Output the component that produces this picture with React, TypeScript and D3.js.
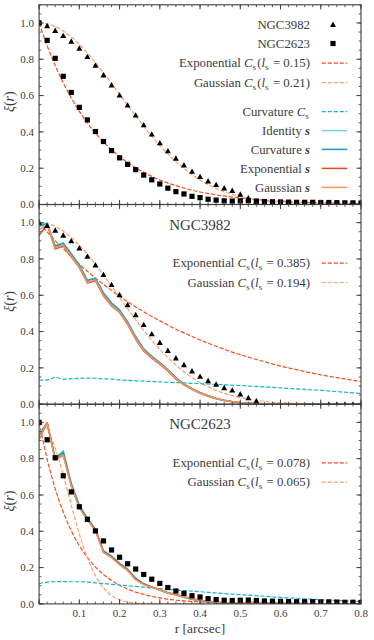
import React from 'react';
import * as d3 from 'd3';

// radial grid (arcsec)
const R = [0, 0.02, 0.04, 0.06, 0.08, 0.1, 0.12, 0.14, 0.16, 0.18, 0.2, 0.22, 0.24, 0.26, 0.28, 0.3, 0.32, 0.34, 0.36, 0.38, 0.4, 0.42, 0.44, 0.46, 0.48, 0.5, 0.52, 0.54, 0.56, 0.58, 0.6, 0.62, 0.64, 0.66, 0.68, 0.7, 0.72, 0.74, 0.76, 0.78, 0.8];

// observed correlation
const ngc3982 = [1.0, 0.982, 0.956, 0.928, 0.897, 0.858, 0.812, 0.764, 0.711, 0.656, 0.600, 0.545, 0.490, 0.436, 0.385, 0.337, 0.293, 0.252, 0.215, 0.180, 0.151, 0.127, 0.107, 0.088, 0.075, 0.054, 0.033, 0.015, -0.02, -0.02, -0.02, -0.025, -0.025, -0.02, -0.02, -0.02, -0.004, -0.004, -0.004, -0.004, -0.02];
const ngc2623 = [1.0, 0.904, 0.805, 0.706, 0.617, 0.535, 0.466, 0.402, 0.347, 0.297, 0.257, 0.221, 0.192, 0.162, 0.136, 0.113, 0.090, 0.071, 0.058, 0.045, 0.038, 0.029, 0.024, 0.020, 0.019, 0.020, 0.021, 0.019, 0.016, 0.015, 0.014, 0.013, 0.012, 0.012, 0.012, 0.011, 0.011, 0.010, 0.009, 0.009, 0.008];

// panel 1 fits
const exp015 = [1, 0.875, 0.766, 0.670, 0.587, 0.513, 0.449, 0.393, 0.344, 0.301, 0.264, 0.231, 0.202, 0.177, 0.155, 0.135, 0.118, 0.104, 0.091, 0.079, 0.069, 0.061, 0.053, 0.047, 0.041, 0.036, 0.031, 0.027, 0.024, 0.021, 0.018, 0.016, 0.014, 0.012, 0.011, 0.009, 0.008, 0.007, 0.006, 0.006, 0.005];
const gauss021 = [1, 0.995, 0.980, 0.956, 0.923, 0.882, 0.835, 0.783, 0.726, 0.667, 0.607, 0.546, 0.487, 0.430, 0.375, 0.325, 0.278, 0.236, 0.198, 0.164, 0.135, 0.110, 0.089, 0.071, 0.056, 0.044, 0.034, 0.026, 0.020, 0.015, 0.011, 0.008, 0.006, 0.004, 0.003, 0.002, 0.002, 0.001, 0.001, 0, 0];

// NGC3982
const exp0385 = [1, 0.949, 0.901, 0.856, 0.812, 0.771, 0.732, 0.695, 0.660, 0.627, 0.595, 0.565, 0.536, 0.509, 0.483, 0.459, 0.436, 0.413, 0.393, 0.373, 0.354, 0.336, 0.319, 0.303, 0.287, 0.273, 0.259, 0.246, 0.234, 0.222, 0.210, 0.200, 0.190, 0.180, 0.171, 0.162, 0.154, 0.146, 0.139, 0.132, 0.125];
const gauss0194 = [1, 0.995, 0.979, 0.953, 0.918, 0.876, 0.826, 0.771, 0.712, 0.650, 0.588, 0.526, 0.465, 0.407, 0.353, 0.302, 0.257, 0.215, 0.179, 0.147, 0.119, 0.096, 0.076, 0.060, 0.047, 0.036, 0.028, 0.021, 0.016, 0.011, 0.008, 0.006, 0.004, 0.003, 0.002, 0.001, 0.001, 0.001, 0, 0, 0];
const curvCs3982 = [0.133, 0.133, 0.148, 0.138, 0.140, 0.142, 0.144, 0.143, 0.140, 0.138, 0.134, 0.131, 0.129, 0.127, 0.125, 0.123, 0.121, 0.119, 0.117, 0.115, 0.113, 0.111, 0.109, 0.107, 0.105, 0.103, 0.100, 0.098, 0.095, 0.093, 0.090, 0.087, 0.084, 0.082, 0.079, 0.076, 0.073, 0.069, 0.066, 0.062, 0.059];
const identity3982 = [0.995, 0.996, 0.873, 0.889, 0.829, 0.769, 0.684, 0.695, 0.614, 0.559, 0.520, 0.455, 0.373, 0.306, 0.265, 0.230, 0.192, 0.147, 0.112, 0.087, 0.065, 0.048, 0.033, 0.022, 0.015, 0.010, 0.006, 0.004, 0.002, 0.001, 0.001, 0.001, 0.001, 0.001, 0, 0, 0, 0, 0, 0, 0];
const curvature3982 = [0.98, 0.995, 0.870, 0.886, 0.826, 0.766, 0.681, 0.692, 0.611, 0.556, 0.517, 0.452, 0.370, 0.303, 0.262, 0.228, 0.190, 0.145, 0.111, 0.086, 0.064, 0.047, 0.032, 0.022, 0.014, 0.009, 0.006, 0.004, 0.002, 0.001, 0.001, 0.001, 0.001, 0.001, 0, 0, 0, 0, 0, 0, 0];
const exponential3982 = [0.93, 0.99, 0.855, 0.872, 0.812, 0.752, 0.668, 0.680, 0.596, 0.542, 0.505, 0.440, 0.358, 0.293, 0.253, 0.220, 0.183, 0.138, 0.106, 0.082, 0.060, 0.044, 0.030, 0.020, 0.013, 0.008, 0.005, 0.003, 0.002, 0.001, 0.001, 0.001, 0.001, 0.001, 0, 0, 0, 0, 0, 0, 0];
const gaussian3982 = [0.96, 0.992, 0.860, 0.876, 0.816, 0.756, 0.672, 0.684, 0.600, 0.546, 0.508, 0.444, 0.362, 0.297, 0.257, 0.224, 0.186, 0.141, 0.108, 0.084, 0.062, 0.045, 0.031, 0.021, 0.014, 0.009, 0.005, 0.003, 0.002, 0.001, 0.001, 0.001, 0.001, 0.001, 0, 0, 0, 0, 0, 0, 0];

// NGC2623
const exp0078 = [1, 0.797, 0.635, 0.506, 0.403, 0.321, 0.256, 0.204, 0.162, 0.129, 0.103, 0.082, 0.065, 0.052, 0.041, 0.033, 0.026, 0.021, 0.017, 0.013, 0.011, 0.008, 0.007, 0.005, 0.004, 0.003, 0.003, 0.002, 0.002, 0.001, 0.001, 0.001, 0.001, 0, 0, 0, 0, 0, 0, 0, 0];
const gauss0065 = [1, 0.962, 0.858, 0.710, 0.543, 0.385, 0.254, 0.155, 0.088, 0.046, 0.023, 0.010, 0.004, 0.002, 0.001, 0, 0, 0, 0, 0, 0, 0, 0, 0, 0, 0, 0, 0, 0, 0, 0, 0, 0, 0, 0, 0, 0, 0, 0, 0, 0];
const curvCs2623 = [0.112, 0.120, 0.123, 0.123, 0.122, 0.122, 0.120, 0.116, 0.112, 0.108, 0.104, 0.100, 0.096, 0.092, 0.088, 0.084, 0.080, 0.077, 0.073, 0.070, 0.067, 0.064, 0.060, 0.057, 0.054, 0.051, 0.048, 0.045, 0.042, 0.039, 0.036, 0.033, 0.031, 0.028, 0.026, 0.023, 0.021, 0.019, 0.017, 0.015, 0.013];
const identity2623 = [0.94, 0.998, 0.805, 0.845, 0.665, 0.545, 0.474, 0.413, 0.293, 0.265, 0.225, 0.192, 0.142, 0.112, 0.094, 0.075, 0.059, 0.049, 0.036, 0.025, 0.016, 0.010, 0.006, 0.004, 0.003, 0.003, 0.004, 0.005, 0.004, 0.003, 0.002, 0.002, 0.001, 0.001, 0.001, 0.001, 0.001, 0.001, 0.001, 0.001, 0.001];
const curvature2623 = [0.925, 0.998, 0.800, 0.836, 0.660, 0.540, 0.470, 0.410, 0.290, 0.262, 0.222, 0.190, 0.140, 0.110, 0.093, 0.076, 0.060, 0.050, 0.037, 0.026, 0.017, 0.011, 0.007, 0.005, 0.004, 0.004, 0.005, 0.006, 0.004, 0.003, 0.002, 0.002, 0.001, 0.001, 0.001, 0.001, 0.001, 0.001, 0.001, 0.001, 0.001];
const exponential2623 = [0.906, 0.998, 0.795, 0.822, 0.650, 0.530, 0.466, 0.405, 0.285, 0.258, 0.218, 0.186, 0.135, 0.108, 0.092, 0.080, 0.062, 0.053, 0.040, 0.030, 0.020, 0.014, 0.010, 0.008, 0.007, 0.007, 0.008, 0.009, 0.006, 0.004, 0.003, 0.002, 0.002, 0.002, 0.001, 0.001, 0.001, 0.001, 0.001, 0.001, 0.001];
const gaussian2623 = [0.91, 0.998, 0.790, 0.818, 0.648, 0.528, 0.463, 0.402, 0.282, 0.255, 0.215, 0.183, 0.132, 0.106, 0.090, 0.078, 0.060, 0.051, 0.038, 0.028, 0.019, 0.013, 0.009, 0.007, 0.006, 0.006, 0.007, 0.008, 0.005, 0.004, 0.003, 0.002, 0.002, 0.001, 0.001, 0.001, 0.001, 0.001, 0.001, 0.001, 0.001];

const xTickLabels = ['0.1', '0.2', '0.3', '0.4', '0.5', '0.6', '0.7', '0.8'];
const yTickLabels = ['0.0', '0.2', '0.4', '0.6', '0.8', '1.0'];

const W = 374, H = 640;
const left = 39.1, right = 361;
const top0 = 4.8, panelH = 199.7;
const FONT = '"Liberation Serif", "DejaVu Serif", serif';
const INK = '#3c3c3c';

const C = {
  expDash: '#f2501d',
  gaussDash: '#f8a26c',
  curvDash: '#19b3cc',
  identity: '#72d4e2',
  curvature: '#0f9fc0',
  exponential: '#e2491b',
  gaussian: '#f3955d',
};

const x = d3.scaleLinear().domain([0, 0.8]).range([left, right]);

const Sub = ({ t }) => (
  <>
    <tspan fontSize="0.72em" dy="2.8">{t}</tspan>
    <tspan dy="-2.8">{'\u200a'}</tspan>
  </>
);

const CsText = ({ name, l }) => (
  <>
    {name + ' '}
    <tspan fontStyle="italic">C</tspan>
    <Sub t="s" />
    <tspan>(</tspan>
    <tspan fontStyle="italic">l</tspan>
    <Sub t="s" />
    <tspan>{' = ' + l + ')'}</tspan>
  </>
);

const SText = ({ name }) => (
  <>
    {name + ' '}
    <tspan fontStyle="italic" fontWeight="bold">s</tspan>
  </>
);

function Panel({ idx, series, markers, title, legend, showX }) {
  const y0 = top0 + idx * panelH;
  const y = d3.scaleLinear().domain([0, 1.1]).range([y0 + panelH, y0]);
  // dashed model curves smooth, solid reconstructions piecewise linear
  const smooth = d3.line().x((_, i) => x(R[i])).y(d => y(d)).curve(d3.curveMonotoneX);
  const linear = d3.line().x((_, i) => x(R[i])).y(d => y(d));
  const clipId = `clip${idx}`;
  const xMinor = x.ticks(40);
  const xMajor = [0, 0.1, 0.2, 0.3, 0.4, 0.5, 0.6, 0.7, 0.8];
  const yMinor = y.ticks(22);
  const yMajor = [0, 0.2, 0.4, 0.6, 0.8, 1.0];
  const bottom = y0 + panelH;
  return (
    <g>
      <defs>
        <clipPath id={clipId}>
          <rect x={left} y={y0} width={right - left} height={panelH} />
        </clipPath>
      </defs>
      <g clipPath={`url(#${clipId})`}>
        {series.map((s, i) => (
          <path key={i} d={s.dash ? smooth(s.values) : linear(s.values)} fill="none" stroke={s.color}
            strokeWidth={s.dash ? 1.2 : 1.5} strokeLinejoin="round"
            strokeDasharray={s.dash ? '4.2,1.8' : undefined} />
        ))}
        {markers.map((m, i) =>
          m.values.map((v, j) => {
            const cx = x(R[j]), cy = y(v);
            return m.shape === 'tri'
              ? <path key={`${i}-${j}`} d={`M${cx},${cy - 3.4}L${cx + 3},${cy + 2}L${cx - 3},${cy + 2}Z`} fill="#000" />
              : <rect key={`${i}-${j}`} x={cx - 2.6} y={cy - 2.6} width={5.2} height={5.2} fill="#000" />;
          })
        )}
      </g>
      <rect x={left} y={y0} width={right - left} height={panelH} fill="none" stroke={INK} strokeWidth={1.1} />
      {xMinor.map(t => (
        <g key={'xm' + t}>
          <line x1={x(t)} x2={x(t)} y1={bottom} y2={bottom - 2.4} stroke={INK} strokeWidth={0.8} />
          <line x1={x(t)} x2={x(t)} y1={y0} y2={y0 + 2.4} stroke={INK} strokeWidth={0.8} />
        </g>
      ))}
      {xMajor.map(t => (
        <g key={'xM' + t}>
          <line x1={x(t)} x2={x(t)} y1={bottom} y2={bottom - 4.6} stroke={INK} strokeWidth={1} />
          <line x1={x(t)} x2={x(t)} y1={y0} y2={y0 + 4.6} stroke={INK} strokeWidth={1} />
        </g>
      ))}
      {yMinor.map(t => (
        <g key={'ym' + t}>
          <line x1={left} x2={left + 2.4} y1={y(t)} y2={y(t)} stroke={INK} strokeWidth={0.8} />
          <line x1={right} x2={right - 2.4} y1={y(t)} y2={y(t)} stroke={INK} strokeWidth={0.8} />
        </g>
      ))}
      {yMajor.map((t, i) => (
        <g key={'yM' + t}>
          <line x1={left} x2={left + 4.6} y1={y(t)} y2={y(t)} stroke={INK} strokeWidth={1} />
          <line x1={right} x2={right - 4.6} y1={y(t)} y2={y(t)} stroke={INK} strokeWidth={1} />
          <text x={left - 5} y={y(t) + 3.7} textAnchor="end" fontSize={11} fill={INK} fontFamily={FONT}>{yTickLabels[i]}</text>
        </g>
      ))}
      {showX && xTickLabels.map(lbl => (
        <text key={lbl} x={x(+lbl)} y={bottom + 12.8} textAnchor="middle" fontSize={11} fill={INK} fontFamily={FONT}>{lbl}</text>
      ))}
      <text transform={`translate(14,${y0 + panelH / 2 - 3}) rotate(-90)`} textAnchor="middle" fontSize={14} fill={INK} fontFamily={FONT}>
        <tspan fontStyle="italic">ξ</tspan>(<tspan fontStyle="italic">r</tspan>)
      </text>
      {title && (
        <text x={200} y={y0 + 25} textAnchor="middle" fontSize={15} fill={INK} fontFamily={FONT}>{title}</text>
      )}
      {legend.map((e, i) => {
        const cy = y0 + e.dy;
        return (
          <g key={'lg' + i}>
            <text x={310} y={cy + 4.2} textAnchor="end" fontSize={12.8} fill={INK} fontFamily={FONT}>{e.label}</text>
            {e.marker === 'tri' && <path d={`M333,${cy - 3.4}L336,${cy + 2}L330,${cy + 2}Z`} fill="#000" />}
            {e.marker === 'sq' && <rect x={330.4} y={cy - 2.6} width={5.2} height={5.2} fill="#000" />}
            {e.color && (
              <line x1={321.7} x2={347.3} y1={cy} y2={cy} stroke={e.color}
                strokeWidth={e.dash ? 1.2 : 1.5} strokeDasharray={e.dash ? '4.2,1.8' : undefined} />
            )}
          </g>
        );
      })}
    </g>
  );
}

export default function App() {
  const p1Legend = [
    { dy: 20.2, label: 'NGC3982', marker: 'tri' },
    { dy: 38.7, label: 'NGC2623', marker: 'sq' },
    { dy: 58.4, label: <CsText name="Exponential" l="0.15" />, color: C.expDash, dash: true },
    { dy: 77.8, label: <CsText name="Gaussian" l="0.21" />, color: C.gaussDash, dash: true },
    { dy: 106.8, label: <><tspan>Curvature </tspan><tspan fontStyle="italic">C</tspan><Sub t="s" /></>, color: C.curvDash, dash: true },
    { dy: 125.8, label: <SText name="Identity" />, color: C.identity },
    { dy: 144.6, label: <SText name="Curvature" />, color: C.curvature },
    { dy: 163.6, label: <SText name="Exponential" />, color: C.exponential },
    { dy: 182.6, label: <SText name="Gaussian" />, color: C.gaussian },
  ];
  const p2Legend = [
    { dy: 58.6, label: <CsText name="Exponential" l="0.385" />, color: C.expDash, dash: true },
    { dy: 78, label: <CsText name="Gaussian" l="0.194" />, color: C.gaussDash, dash: true },
  ];
  const p3Legend = [
    { dy: 58.6, label: <CsText name="Exponential" l="0.078" />, color: C.expDash, dash: true },
    { dy: 78, label: <CsText name="Gaussian" l="0.065" />, color: C.gaussDash, dash: true },
  ];
  return (
    <svg width={W} height={H} style={{ position: 'absolute', left: 0, top: 0, background: '#fff' }}>
      <Panel idx={0} title={null} legend={p1Legend} showX={false}
        series={[
          { values: exp015, color: C.expDash, dash: true },
          { values: gauss021, color: C.gaussDash, dash: true },
        ]}
        markers={[{ values: ngc2623, shape: 'sq' }, { values: ngc3982, shape: 'tri' }]} />
      <Panel idx={1} title="NGC3982" legend={p2Legend} showX={false}
        series={[
          { values: exp0385, color: C.expDash, dash: true },
          { values: gauss0194, color: C.gaussDash, dash: true },
          { values: curvCs3982, color: C.curvDash, dash: true },
          { values: identity3982, color: C.identity },
          { values: curvature3982, color: C.curvature },
          { values: exponential3982, color: C.exponential },
          { values: gaussian3982, color: C.gaussian },
        ]}
        markers={[{ values: ngc3982, shape: 'tri' }]} />
      <Panel idx={2} title="NGC2623" legend={p3Legend} showX={true}
        series={[
          { values: exp0078, color: C.expDash, dash: true },
          { values: gauss0065, color: C.gaussDash, dash: true },
          { values: curvCs2623, color: C.curvDash, dash: true },
          { values: identity2623, color: C.identity },
          { values: curvature2623, color: C.curvature },
          { values: exponential2623, color: C.exponential },
          { values: gaussian2623, color: C.gaussian },
        ]}
        markers={[{ values: ngc2623, shape: 'sq' }]} />
      <text x={200} y={633} textAnchor="middle" fontSize={13.5} fill={INK} fontFamily={FONT}>r [arcsec]</text>
    </svg>
  );
}
